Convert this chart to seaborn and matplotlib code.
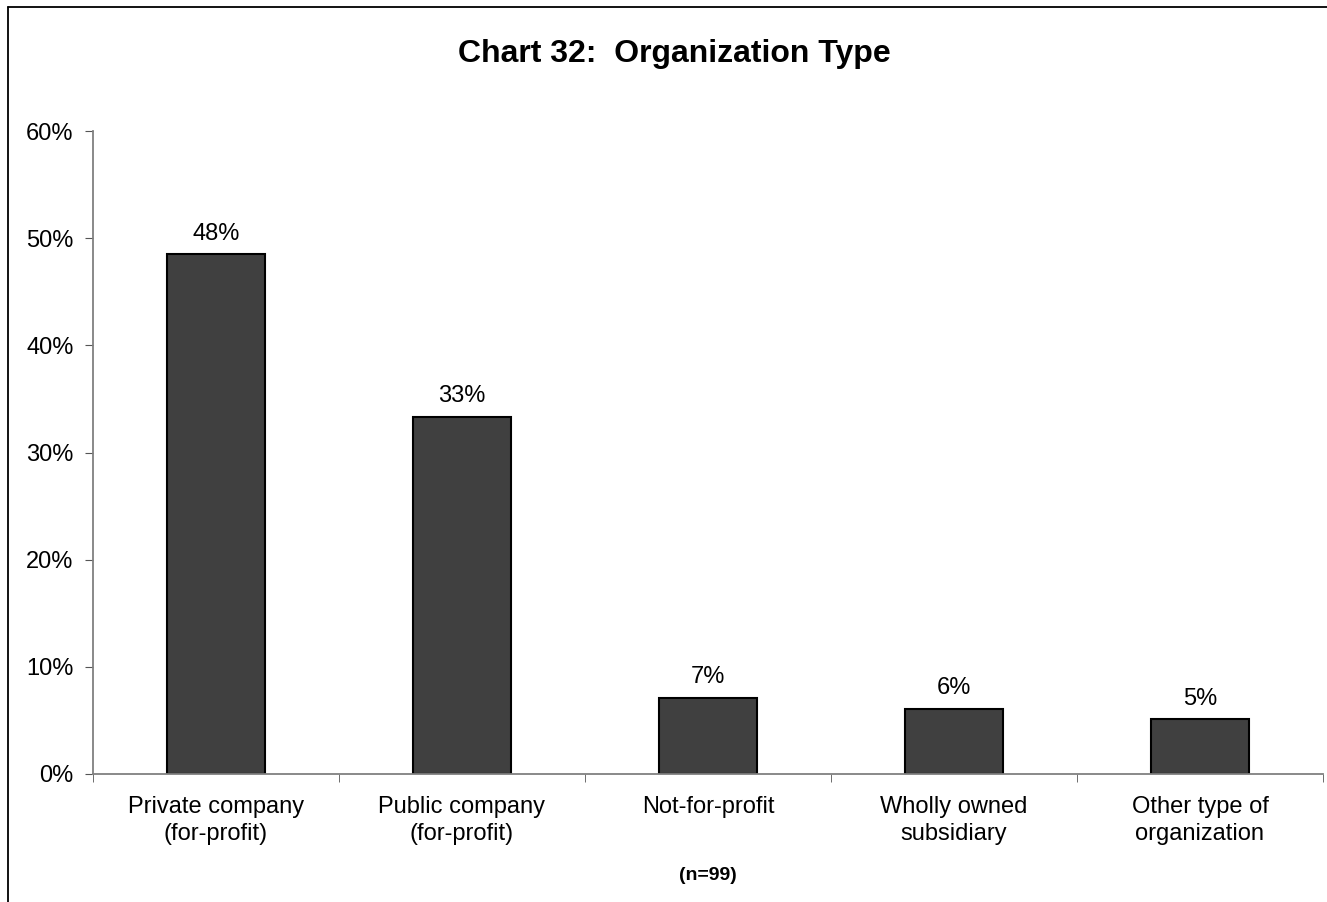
import matplotlib
matplotlib.use("Agg")
import matplotlib.pyplot as plt
from matplotlib.lines import Line2D
import seaborn as sns

categorias = ["Private company\n(for-profit)", "Public company\n(for-profit)",
              "Not-for-profit", "Wholly owned\nsubsidiary", "Other type of\norganization"]
valores = [48.5, 33.3, 7.1, 6.1, 5.1]
rotulos = ["48%", "33%", "7%", "6%", "5%"]
yticks = [0, 10, 20, 30, 40, 50, 60]

sns.set_style("white")
plt.rcParams["font.family"] = ["Liberation Sans", "DejaVu Sans"]
plt.rcParams["text.color"] = "black"
plt.rcParams["xtick.color"] = "black"
plt.rcParams["ytick.color"] = "black"

W, H = 1327, 902
fig = plt.figure(figsize=(W / 100, H / 100), dpi=100)
ax = fig.add_axes([93 / W, 1 - 774 / H, (1323 - 93) / W, (774 - 131) / H])

sns.barplot(x=categorias, y=valores, color="#404040", saturation=1,
            edgecolor="black", linewidth=1.5, width=0.4, ax=ax)
for c in ax.containers:
    ax.bar_label(c, labels=rotulos, padding=7, fontsize=17, color="black")

ax.set_xlim(-0.5, len(categorias) - 0.5)
ax.set_ylim(0, 60)
ax.set_yticks(yticks)
ax.set_yticklabels([f"{t}%" for t in yticks], fontsize=17)
ax.set_xticks(range(len(categorias)))
ax.set_xticklabels(categorias, fontsize=17, linespacing=1.3)
ax.set_xticks([i - 0.5 for i in range(len(categorias) + 1)], minor=True)
ax.tick_params(axis="x", which="major", length=0, pad=16)
ax.tick_params(axis="x", which="minor", length=6, direction="out", color="#555555", bottom=True)
ax.tick_params(axis="y", length=6, direction="out", color="#555555", left=True, pad=8)
ax.set_xlabel("")
ax.set_ylabel("")

sns.despine(ax=ax)
for s in ["left", "bottom"]:
    ax.spines[s].set_color("#808080")
    ax.spines[s].set_linewidth(1.3)

fig.text(674 / W, 1 - 62 / H, "Chart 32:  Organization Type", ha="center", va="baseline",
         fontsize=23, fontweight="bold")
fig.text(708 / W, 1 - 876 / H, "(n=99)", ha="center", va="center",
         fontsize=14, fontweight="bold")

# marco da figura (so topo e esquerda visiveis)
fig.add_artist(Line2D([8 / W, 8 / W], [0, 1 - 7 / H], color="black", lw=1.3, transform=fig.transFigure))
fig.add_artist(Line2D([8 / W, 1], [1 - 7 / H, 1 - 7 / H], color="black", lw=1.3, transform=fig.transFigure))

fig.savefig("out.png", dpi=100)
